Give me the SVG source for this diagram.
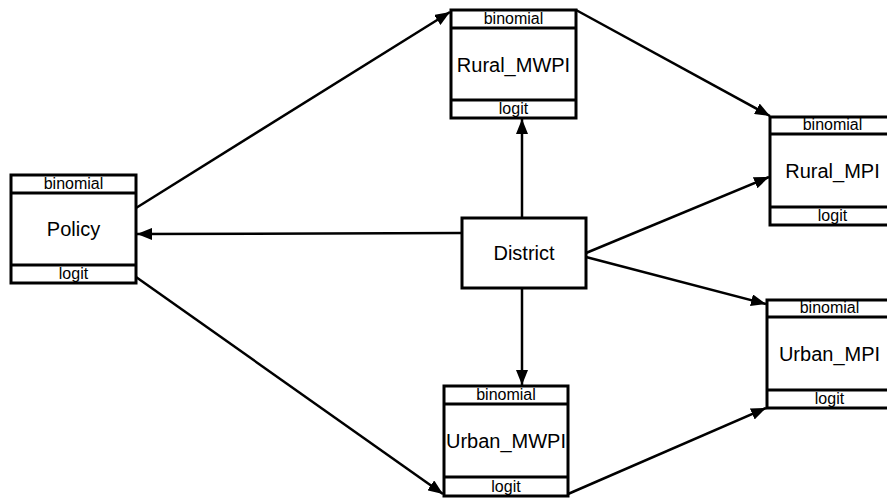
<svg xmlns="http://www.w3.org/2000/svg" width="887" height="498" viewBox="0 0 887 498">
  <style>
    .box { fill: #ffffff; stroke: #000000; stroke-width: 3; }
    .sep { stroke: #000000; stroke-width: 3; }
    .small { font-family: "Liberation Sans", Arial, sans-serif; font-size: 16px; text-anchor: middle; fill: #000000; }
    .label { font-family: "Liberation Sans", Arial, sans-serif; font-size: 20px; text-anchor: middle; fill: #000000; }
    .edge { stroke: #000000; stroke-width: 2.5; fill: none; marker-end: url(#arrow); }
  </style>
  <defs>
    <marker id="arrow" markerUnits="userSpaceOnUse" markerWidth="16" markerHeight="12" refX="15" refY="6" orient="auto">
      <path d="M0,0 L15,6 L0,12 z" fill="#000000"/>
    </marker>
  </defs>
  <rect width="887" height="498" fill="#ffffff"/>

  <g id="edges">
    <line class="edge" x1="136" y1="208" x2="450" y2="12"/>
    <line class="edge" x1="576" y1="10" x2="770" y2="116"/>
    <line class="edge" x1="522" y1="218" x2="522" y2="119"/>
    <line class="edge" x1="462" y1="233" x2="137" y2="234"/>
    <line class="edge" x1="586" y1="253" x2="769" y2="177"/>
    <line class="edge" x1="522" y1="288" x2="522" y2="385"/>
    <line class="edge" x1="586" y1="257" x2="766" y2="304"/>
    <line class="edge" x1="136" y1="277" x2="443" y2="494"/>
    <line class="edge" x1="568" y1="494" x2="766" y2="408"/>
  </g>

  <g id="Policy">
    <rect class="box" x="11" y="175" width="125" height="108"/>
    <line class="sep" x1="11" y1="193" x2="136" y2="193"/>
    <line class="sep" x1="11" y1="265" x2="136" y2="265"/>
    <text class="small" x="73.5" y="189">binomial</text>
    <text class="label" x="73.5" y="236">Policy</text>
    <text class="small" x="73.5" y="279">logit</text>
  </g>

  <g id="Rural_MWPI">
    <rect class="box" x="451" y="10" width="125" height="108"/>
    <line class="sep" x1="451" y1="28" x2="576" y2="28"/>
    <line class="sep" x1="451" y1="100" x2="576" y2="100"/>
    <text class="small" x="513.5" y="24">binomial</text>
    <text class="label" x="513.5" y="72">Rural_MWPI</text>
    <text class="small" x="513.5" y="114">logit</text>
  </g>

  <g id="Rural_MPI">
    <rect class="box" x="770" y="117" width="125" height="108"/>
    <line class="sep" x1="770" y1="134" x2="895" y2="134"/>
    <line class="sep" x1="770" y1="207" x2="895" y2="207"/>
    <text class="small" x="832.5" y="130">binomial</text>
    <text class="label" x="832.5" y="178">Rural_MPI</text>
    <text class="small" x="832.5" y="221">logit</text>
  </g>

  <g id="District">
    <rect class="box" x="462" y="218" width="124" height="70"/>
    <text class="label" x="524" y="260">District</text>
  </g>

  <g id="Urban_MPI">
    <rect class="box" x="767" y="300" width="125" height="108"/>
    <line class="sep" x1="767" y1="317" x2="892" y2="317"/>
    <line class="sep" x1="767" y1="390" x2="892" y2="390"/>
    <text class="small" x="829.5" y="313">binomial</text>
    <text class="label" x="829.5" y="361">Urban_MPI</text>
    <text class="small" x="829.5" y="404">logit</text>
  </g>

  <g id="Urban_MWPI">
    <rect class="box" x="444" y="386" width="124" height="110"/>
    <line class="sep" x1="444" y1="404" x2="568" y2="404"/>
    <line class="sep" x1="444" y1="477" x2="568" y2="477"/>
    <text class="small" x="506" y="400">binomial</text>
    <text class="label" x="506" y="448">Urban_MWPI</text>
    <text class="small" x="506" y="492">logit</text>
  </g>
</svg>
